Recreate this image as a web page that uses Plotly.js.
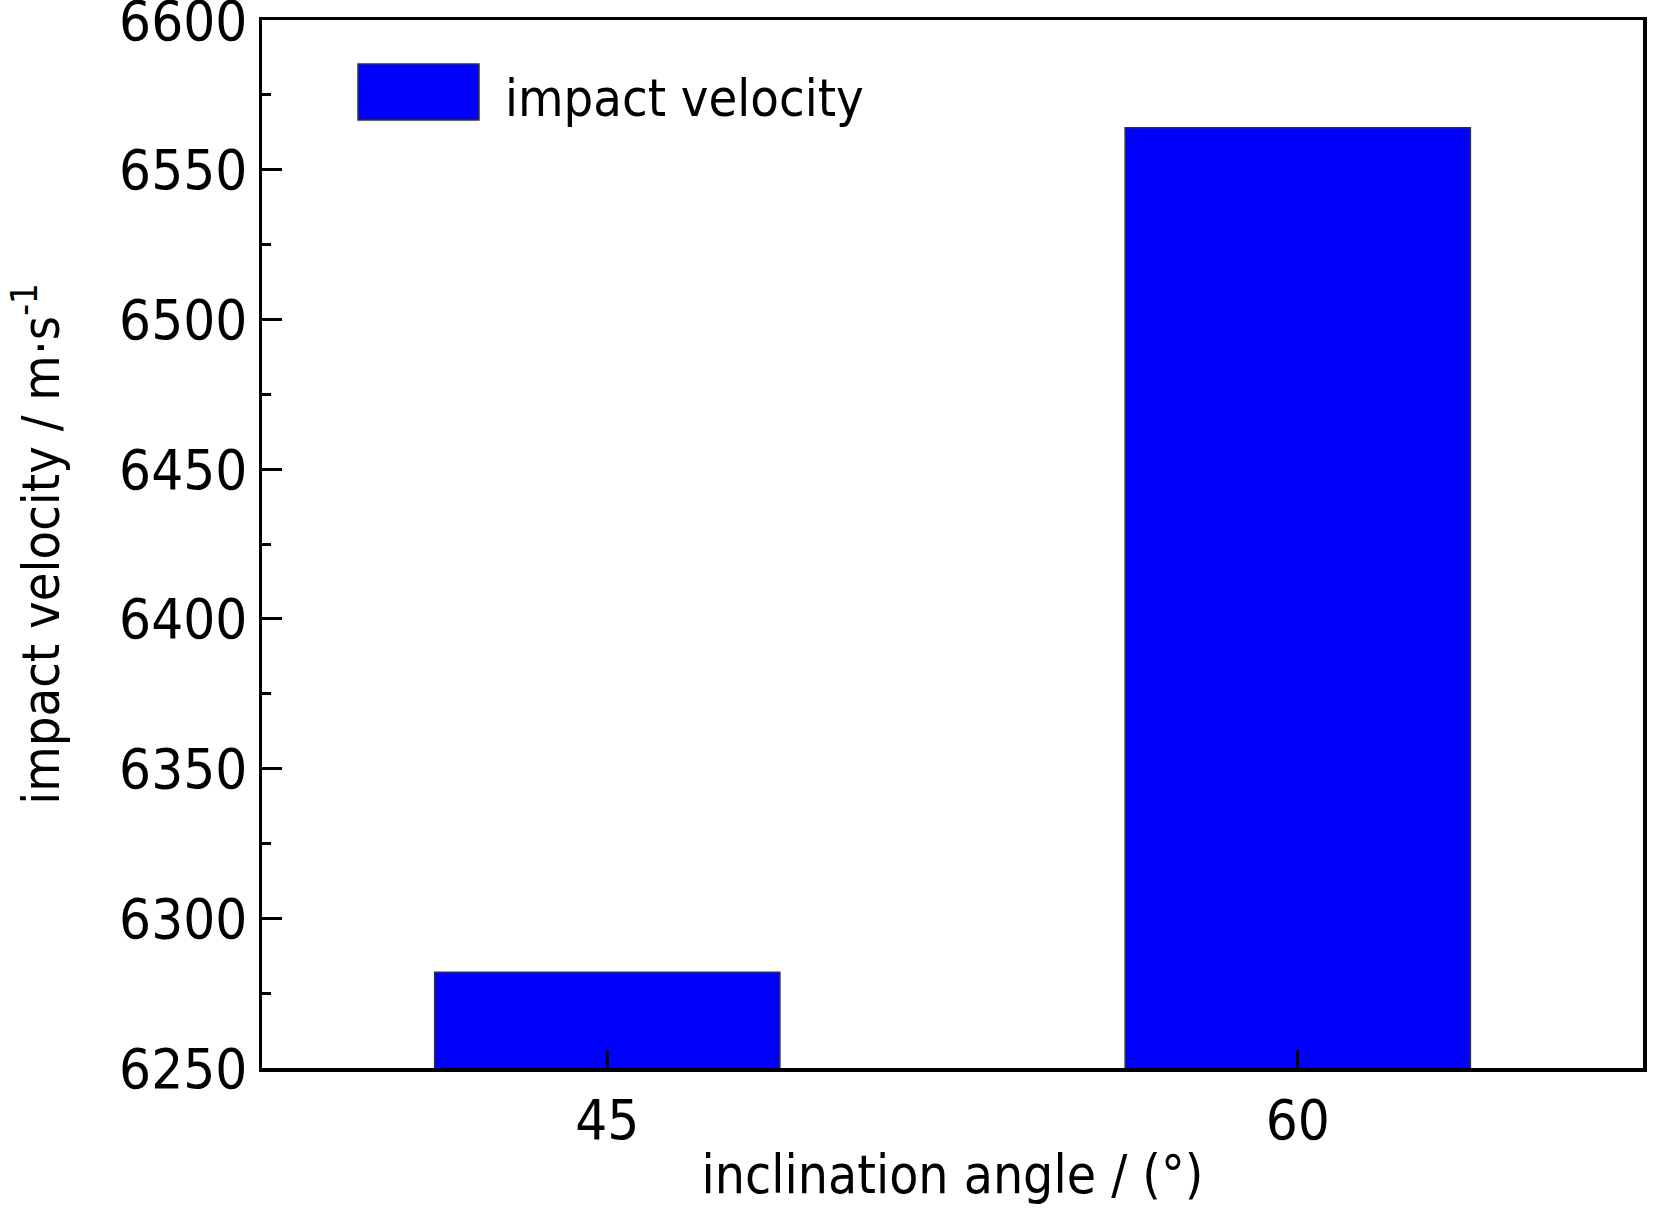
<!DOCTYPE html>
<html>
<head>
<meta charset="utf-8">
<script src="https://cdn.plot.ly/plotly-3.0.1.min.js"></script>
<style>
  html, body { margin: 0; padding: 0; background: #fff; }
  #chart { width: 1677px; height: 1213px; }
</style>
</head>
<body>
<div id="chart"></div>
<script>
const angles = ['45', '60'];
const impactVelocity = [6282, 6564];
const seriesName = 'impact velocity';
const yTicks = [6250, 6300, 6350, 6400, 6450, 6500, 6550, 6600];

const FONT = "'DejaVu Sans Condensed', 'Liberation Sans Narrow', 'Liberation Sans', Arial, sans-serif";

const trace = {
    type: 'bar',
    x: angles,
    y: impactVelocity,
    base: 0,
    name: seriesName,
    width: 0.5,
    marker: { color: '#0000ff', line: { color: '#333333', width: 1.5 } },
    showlegend: false,
    hoverinfo: 'x+y'
};

const layout = {
    width: 1677,
    height: 1213,
    paper_bgcolor: '#ffffff',
    plot_bgcolor: '#ffffff',
    font: { family: FONT, color: '#000', size: 56 },
    margin: { l: 262, r: 34, t: 20, b: 145 },
    showlegend: false,
    xaxis: {
        type: 'category',
        range: [-0.5, 1.5],
        showline: true, linecolor: '#000', linewidth: 3.5, mirror: true,
        ticks: 'inside', ticklen: 18, tickwidth: 3, tickcolor: '#000',
        tickfont: { family: FONT, size: 56 },
        showgrid: false, zeroline: false,
        title: { text: 'inclination angle / (°)', font: { family: FONT, size: 53 }, standoff: 6 }
    },
    yaxis: {
        range: [6250, 6600],
        tickvals: yTicks,
        ticklabeloverflow: 'allow',
        showline: true, linecolor: '#000', linewidth: 3.5, mirror: true,
        ticks: 'inside', ticklen: 20, tickwidth: 3, tickcolor: '#000',
        minor: { dtick: 25, ticks: 'inside', ticklen: 9, tickwidth: 3, tickcolor: '#000', showgrid: false },
        tickfont: { family: FONT, size: 56 },
        ticklabelstandoff: 0,
        showgrid: false, zeroline: false,
        title: { text: 'impact velocity / m·s<sup>-1</sup>', font: { family: FONT, size: 52 }, standoff: 44 }
    },
    shapes: [{
        type: 'rect', xref: 'paper', yref: 'paper',
        x0: (358 - 262) / 1381, x1: (479 - 262) / 1381,
        y0: (1068 - 120) / 1048, y1: (1068 - 64) / 1048,
        fillcolor: '#0000ff', line: { color: '#333333', width: 1.5 }
    }],
    annotations: [{
        xref: 'paper', yref: 'paper',
        x: (503 - 262) / 1381, y: (1068 - 98) / 1048,
        xanchor: 'left', yanchor: 'middle',
        text: seriesName, showarrow: false,
        font: { family: FONT, size: 52, color: '#000' }
    }]
};

Plotly.newPlot('chart', [trace], layout, { displayModeBar: false, staticPlot: true });
</script>
</body>
</html>
